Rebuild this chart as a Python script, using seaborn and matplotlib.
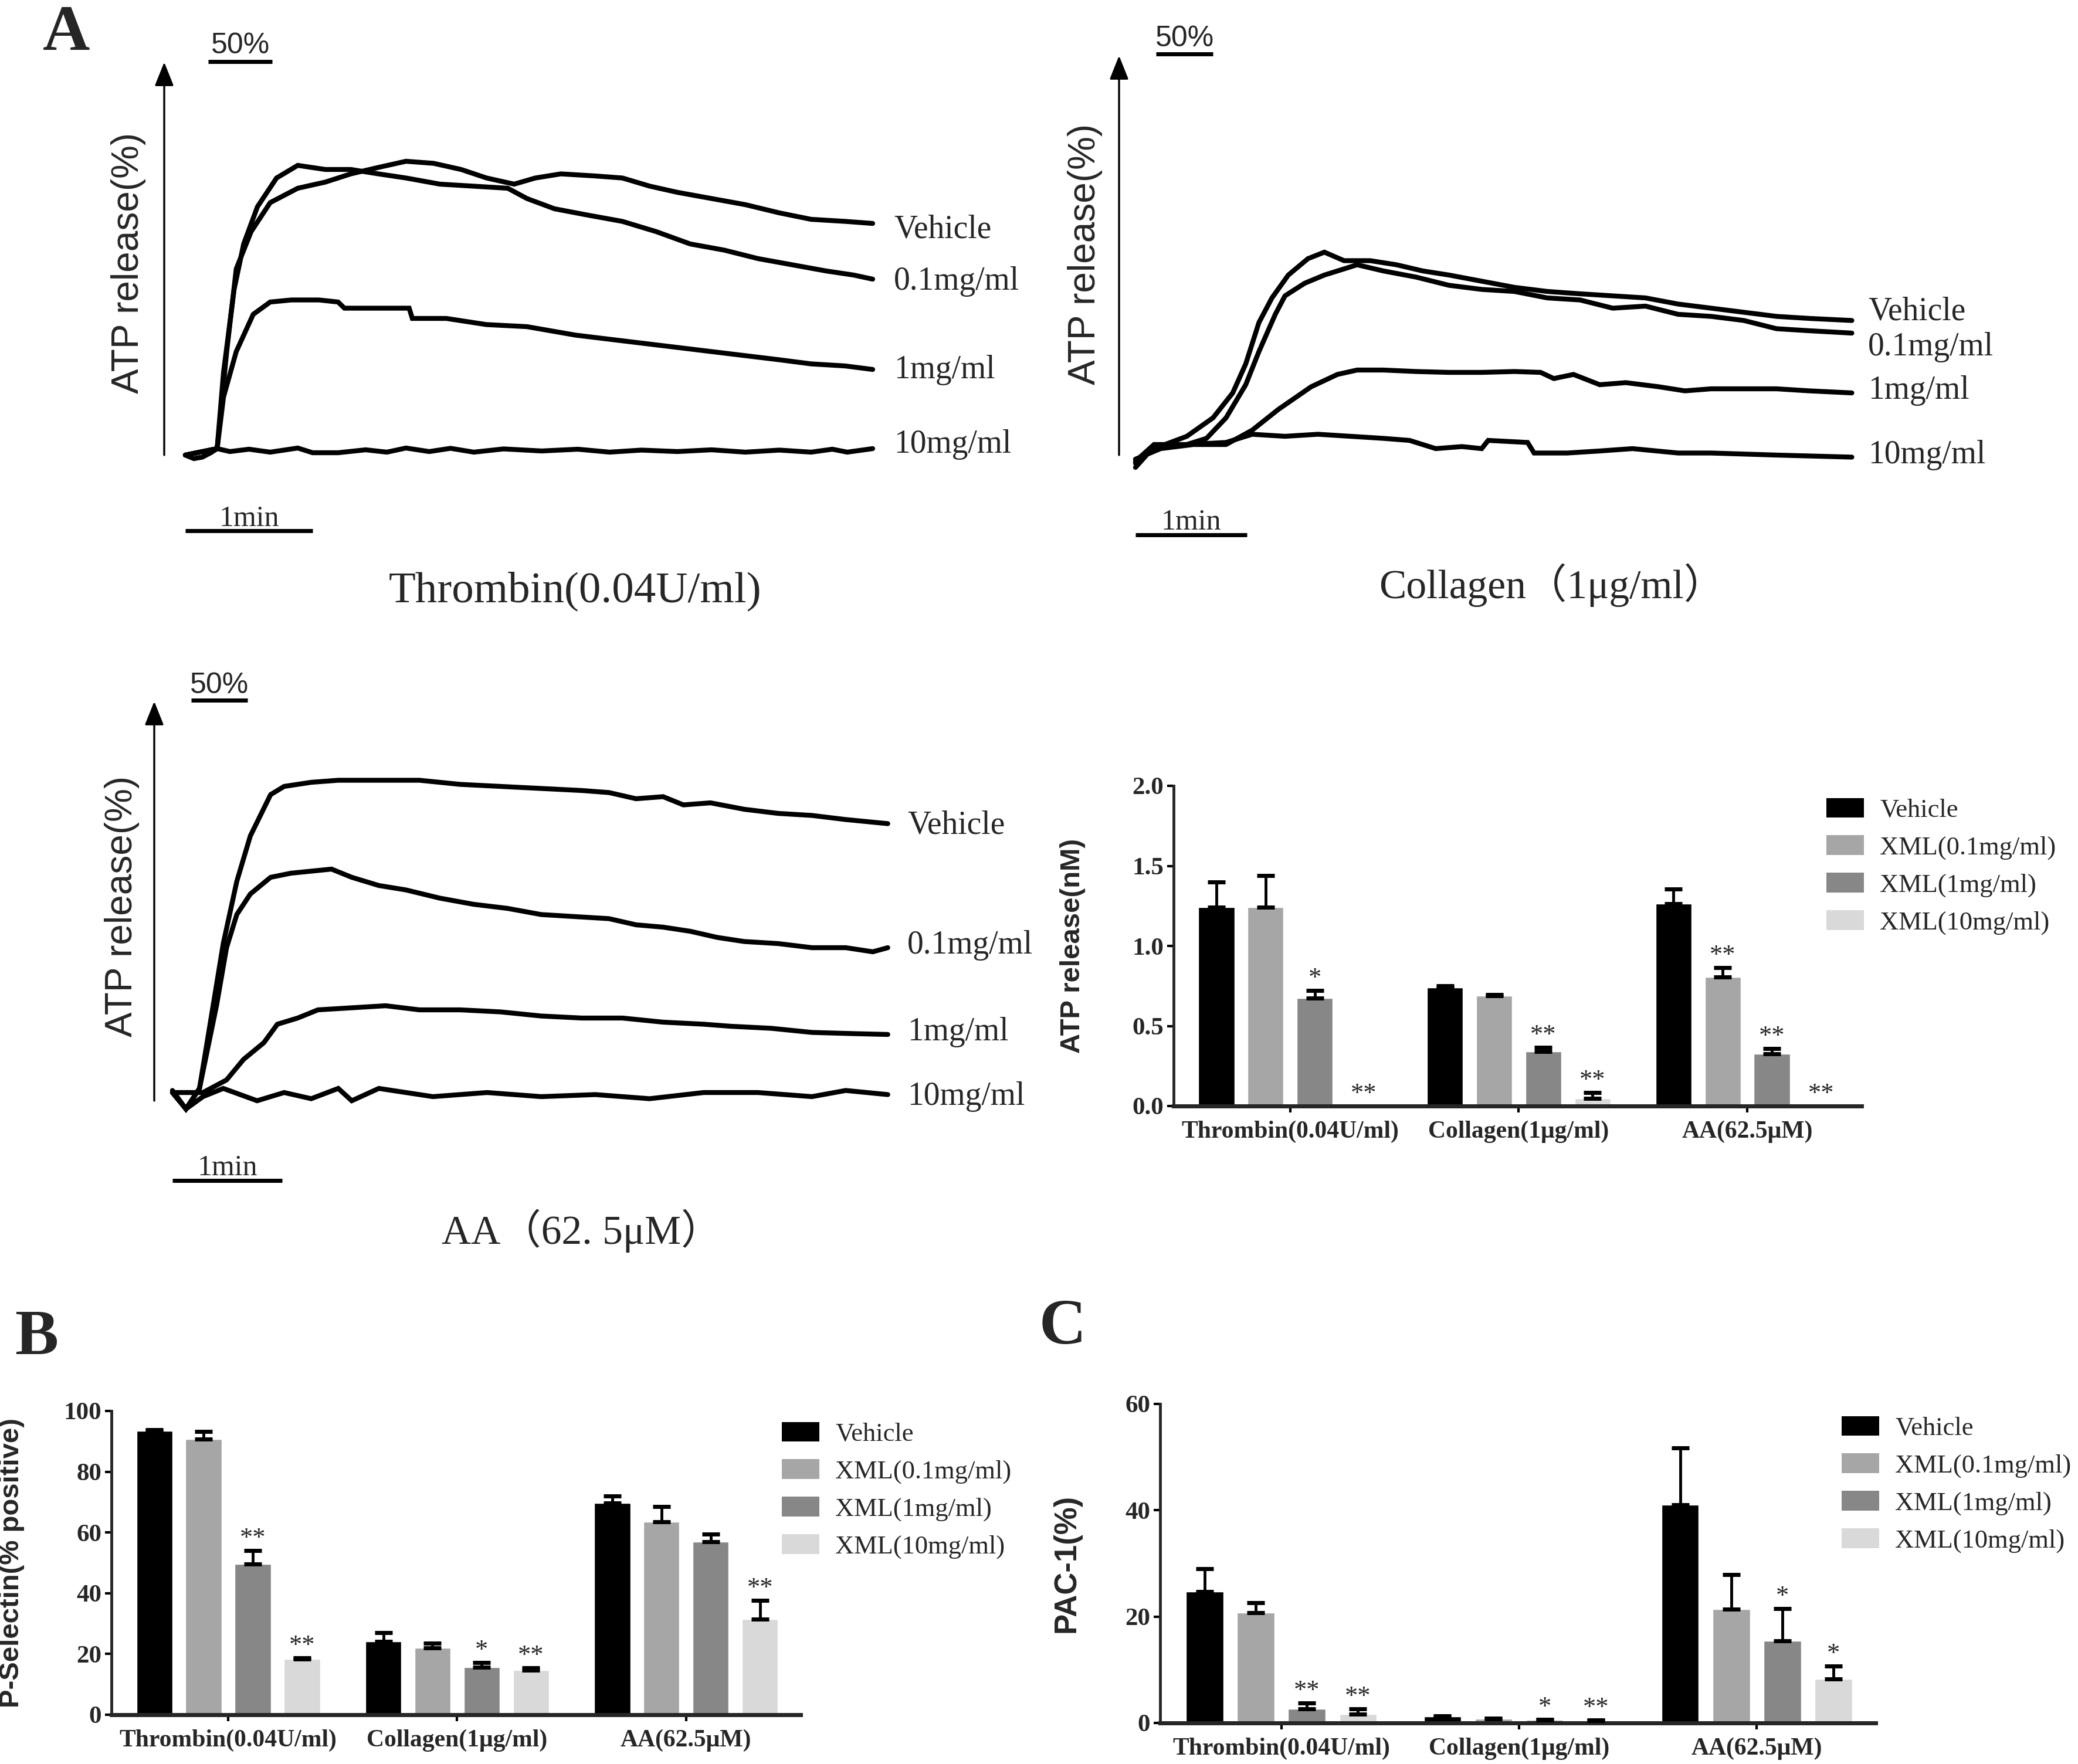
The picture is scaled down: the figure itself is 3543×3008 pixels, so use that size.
import numpy as np
import pandas as pd
import matplotlib
matplotlib.use('Agg')
import matplotlib.pyplot as plt
from matplotlib.patches import Patch
import seaborn as sns

W, H = 3543, 3008

# ---------------- ATP release traces: (time s, release %) ----------------
thr_vehicle = [(0, -0.8), (15, 1.4), (19.5, 34.5), (24, 62.7), (31, 75.4), (40, 85.3), (53, 90.2),
               (66, 92.3), (78, 95.1), (91, 97.3), (104, 99.4), (117, 98.7), (130, 96.6), (142, 93.7),
               (155, 91.6), (165, 93.7), (177, 95.1), (193, 94.4), (206, 93.7), (219, 90.9), (232, 88.8),
               (248, 86.7), (264, 84.6), (280, 81.8), (295, 79.6), (311, 78.9), (324, 78.2)]
thr_01 = [(0, -0.8), (15, 1.4), (18, 27.4), (23, 55.7), (27.5, 71.2), (34, 83.9), (43, 93.7), (53, 98),
          (66, 96.6), (78, 96.6), (91, 95.1), (104, 93.7), (120, 91.6), (136, 90.9), (152, 90.2),
          (161, 86.7), (174, 83.2), (190, 81), (206, 78.9), (222, 75.4), (238, 71.2), (254, 69.1),
          (270, 66.2), (286, 64.1), (302, 62), (315, 60.6), (324, 59.2)]
thr_1 = [(0, -0.8), (15, 1.4), (18, 19), (24, 34.5), (32, 47.2), (40, 51.4), (50, 52.1), (63, 52.1),
         (72, 51.4), (75, 49.3), (91, 49.3), (105.5, 49.3), (107, 45.8), (123, 45.8), (142, 43.7),
         (161, 43), (184, 40.1), (200, 38.7), (216, 37.3), (232, 35.9), (248, 34.5), (264, 33.1),
         (280, 31.7), (295, 30.3), (311, 29.6), (324, 28.4)]
thr_10 = [(0, -0.8), (4, -2), (8, -1.5), (12, 0), (15, 1.4), (21, 0.4), (30, 1.2), (40, 0.2), (53, 1.6),
          (60, 0), (72, 0), (85, 1), (95, 0.2), (104, 1.6), (115, 0.4), (125, 1.5), (136, 0.2),
          (150, 1.3), (168, 0.6), (185, 1.2), (200, 0.2), (215, 0.9), (232, 0.4), (248, 1), (264, 0.2),
          (280, 0.9), (295, 0.2), (305, 1.2), (312, 0.2), (324, 1.4)]

col_vehicle = [(0, -2.8), (10, 2.2), (27.6, 6.4), (41.7, 12.7), (52.3, 21.2), (59.3, 31.1), (66.4, 45.2),
               (73.4, 53.6), (82.2, 61.4), (92.8, 67), (101.6, 69.2), (112.2, 66.3), (126.3, 66.3),
               (140.4, 64.9), (154.5, 62.8), (168.6, 61.4), (186.2, 59.3), (203.8, 57.2), (221.5, 55.8),
               (239.1, 55), (256.7, 54.3), (274.3, 53.6), (291.9, 51.5), (309.6, 50.1), (327.2, 48.7),
               (344.8, 47.3), (362.5, 46.6), (385.3, 45.9)]
col_01 = [(0, -4.2), (10, 2.9), (27.6, 3.6), (38.2, 5.7), (48.7, 12.7), (59.3, 24), (66.4, 35.3),
          (75.2, 48), (80.4, 54.3), (91, 58.6), (101.6, 61.4), (112.2, 63.5), (119.2, 64.9), (133.3, 62.8),
          (150.9, 60.7), (168.6, 57.9), (186.2, 56.5), (203.8, 55.8), (221.5, 53.6), (239.1, 52.9),
          (256.7, 50.1), (274.3, 50.8), (291.9, 48), (309.6, 47.3), (327.2, 45.9), (344.8, 43.1),
          (362.5, 42.4), (385.3, 41.6)]
col_1 = [(0, -1.4), (13.5, 2.2), (31.1, 3.6), (48.7, 3.6), (62.8, 8.5), (76.9, 15.6), (94.5, 23.3),
         (108.6, 27.5), (119.2, 29), (133.3, 29), (150.9, 28.5), (168.6, 28.2), (186.2, 28.2),
         (203.8, 28.5), (217.9, 28.2), (225, 26.1), (235.6, 27.5), (249.7, 24), (263.7, 24.7),
         (281.4, 23.3), (295.5, 21.9), (309.6, 22.6), (327.2, 22.6), (344.8, 22.6), (362.5, 21.9),
         (385.3, 21.2)]
col_10 = [(0, -2.1), (10, 3.6), (27.6, 3.6), (48.7, 4.3), (62.8, 7.1), (80.4, 6.4), (98.1, 7.1),
          (115.7, 6.4), (133.3, 5.7), (147.4, 5), (161.5, 2.2), (175.6, 2.9), (186.2, 2.2), (189.7, 5),
          (210.9, 4.3), (214.4, 0.7), (232.1, 0.7), (249.7, 1.4), (267.3, 2.2), (291.9, 0.7),
          (309.6, 0.7), (344.8, 0), (385.3, -0.7)]

aa_vehicle = [(0, 0.6), (7.4, -5), (14.8, 2), (20.4, 23.2), (27.8, 51.4), (35.2, 72.6), (42.6, 88.1),
              (53.7, 102.2), (61.1, 105), (75.9, 106.4), (90.7, 107.1), (112.9, 107.1), (135.1, 107.1),
              (157.3, 105.7), (179.5, 105), (201.7, 104.3), (224, 103.6), (238.8, 102.9), (253.6, 100.8),
              (268.4, 101.5), (279.5, 98.7), (294.3, 99.4), (312.8, 97.2), (331.3, 95.8), (349.8, 95.1),
              (368.3, 93.7), (391.3, 92.3)]
aa_01 = [(0, 0.6), (7.4, -5), (14.8, 2), (24.1, 30.2), (29.6, 50), (35.2, 61.3), (42.6, 68.3), (53.7, 74),
         (64.8, 75.4), (75.9, 76.1), (87, 76.8), (98.1, 74), (112.9, 71.2), (127.7, 69.7), (146.2, 66.9),
         (164.7, 64.8), (183.3, 63.4), (201.7, 61.3), (220.2, 60.6), (238.8, 59.9), (253.6, 57.8),
         (268.4, 57), (283.2, 55.6), (298, 53.5), (312.8, 52.1), (331.3, 51.4), (349.8, 50), (368.3, 50),
         (383.1, 48.6), (391.3, 50)]
aa_1 = [(0, 0.6), (16.7, 0.6), (29.6, 4.9), (38.9, 11.9), (50, 17.6), (57.4, 23.9), (68.5, 26),
        (79.6, 28.8), (98.1, 29.5), (116.6, 30.2), (135.1, 28.8), (157.3, 28.8), (179.5, 28.1),
        (201.7, 26.7), (224, 26), (246.2, 26), (268.4, 24.6), (290.6, 23.9), (305.4, 23.2), (327.6, 22.5),
        (349.8, 21.1), (372, 20.7), (391.3, 20.4)]
aa_10 = [(0, 1.3), (7.4, -5), (16.7, -0.8), (27.8, 2), (46.3, -2.2), (61.1, 0.6), (75.9, -1.5), (90.7, 2),
         (98.1, -2.2), (112.9, 2), (142.5, -0.8), (172.1, 0.6), (201.7, -0.8), (231.3, -0.1), (261, -1.5),
         (290.6, 0.6), (320.2, 0.6), (349.8, -0.8), (368.3, 1.3), (391.3, -0.1)]

trace_names = ['Vehicle', '0.1mg/ml', '1mg/ml', '10mg/ml']

# ---------------- bar chart data ----------------
agonists = ['Thrombin(0.04U/ml)', 'Collagen(1μg/ml)', 'AA(62.5μM)']
groups = ['Vehicle', 'XML(0.1mg/ml)', 'XML(1mg/ml)', 'XML(10mg/ml)']
bar_colors = ['#000000', '#a6a6a6', '#878787', '#d9d9d9']

atp_vehicle = [1.24, 0.74, 1.265]
atp_xml01 = [1.24, 0.69, 0.805]
atp_xml1 = [0.675, 0.34, 0.325]
atp_xml10 = [0.0, 0.046, 0.0]
atp_err = [[0.16, 0.012, 0.09], [0.20, 0.005, 0.058], [0.046, 0.026, 0.035], [0.0, 0.037, 0.0]]
atp_sig = [['', '', ''], ['', '', '**'], ['*', '**', '**'], ['**', '**', '**']]

psel_vehicle = [93.5, 24.2, 69.7]
psel_xml01 = [90.7, 22.1, 63.5]
psel_xml1 = [49.7, 15.7, 56.9]
psel_xml10 = [18.3, 14.6, 31.5]
psel_err = [[0.3, 2.8, 2.4], [2.5, 1.4, 5.0], [4.4, 1.4, 2.6], [0.4, 0.9, 6.2]]
psel_sig = [['', '', ''], ['', '', ''], ['**', '*', ''], ['**', '**', '**']]

pac_vehicle = [24.7, 1.2, 41.0]
pac_xml01 = [20.7, 0.8, 21.4]
pac_xml1 = [2.7, 0.6, 15.4]
pac_xml10 = [1.7, 0.45, 8.3]
pac_err = [[4.3, 0.1, 10.7], [1.9, 0.1, 6.5], [1.1, 0.05, 6.1], [1.0, 0.05, 2.4]]
pac_sig = [['', '', ''], ['', '', ''], ['**', '*', '*'], ['**', '**', '*']]

sns.set_style('white')
plt.rcParams['font.family'] = ['Liberation Serif', 'Noto Sans CJK SC']
SANS = ['Liberation Sans', 'DejaVu Sans']

fig = plt.figure(figsize=(W / 100, H / 100), dpi=100)


def px_axes(left, top, right, bottom):
    return fig.add_axes([left / W, 1 - bottom / H, (right - left) / W, (bottom - top) / H])


canvas = px_axes(0, 0, W, H)
canvas.set_xlim(0, W)
canvas.set_ylim(H, 0)
canvas.axis('off')

SY = 5.0  # px per percent


def trace_panel(x0, y0, sx, t_end, traces, label_t, label_y, bar_y, text_y):
    ax = px_axes(x0, y0 - 110 * SY, x0 + t_end * sx, y0 + 10 * SY)
    for tr in traces:
        t, v = zip(*tr)
        sns.lineplot(x=list(t), y=list(v), ax=ax, color='black', lw=6, sort=False, estimator=None)
    for ln in ax.lines:
        ln.set_clip_on(False)
        ln.set_solid_joinstyle('miter')
    for name, ly in zip(trace_names, label_y):
        ax.text(label_t, ly, name, fontsize=40, ha='left', va='center')
    ax.plot([0, 60], [bar_y, bar_y], color='black', lw=5, solid_capstyle='butt', clip_on=False)
    ax.text(30, text_y, '1min', fontsize=36, ha='center', va='baseline')
    ax.set_xlim(0, t_end)
    ax.set_ylim(-10, 110)
    ax.axis('off')
    return ax


trace_panel(316, 772, 3.617, 324, [thr_vehicle, thr_01, thr_1, thr_10], 334,
            [76.2, 58.4, 28.2, 2.8], -26.6, -25.0)
trace_panel(1936, 776, 3.17, 385.5, [col_vehicle, col_01, col_1, col_10], 394,
            [48.8, 36.8, 22.0, 0.0], -27.2, -25.4)
trace_panel(294, 1866, 3.117, 391.4, [aa_vehicle, aa_01, aa_1, aa_10], 402,
            [91.6, 50.8, 21.2, -0.8], -29.4, -27.6)

# arrows, 50% scale bars, axis titles of the traces
for x, ytip, ybot in [(280, 106, 776), (1908, 95, 776), (263, 1196, 1877)]:
    canvas.annotate('', xy=(x, ytip), xytext=(x, ybot),
                    arrowprops=dict(arrowstyle='-|>,head_length=1.0,head_width=0.4', lw=2.4,
                                    color='black', mutation_scale=25, shrinkA=0, shrinkB=0))
for x1, x2, yb, ytx in [(355, 464, 105, 91), (1971, 2068, 92, 79), (326, 422, 1194, 1182)]:
    canvas.plot([x1, x2], [yb, yb], color='black', lw=5, solid_capstyle='butt')
    canvas.text((x1 + x2) / 2, ytx, '50%', family=SANS, fontsize=36, ha='center', va='baseline')
for x, y in [(219, 448), (1850, 433), (208, 1545)]:
    canvas.text(x, y, 'ATP release(%)', family=SANS, fontsize=46, rotation=90, ha='center', va='center')
canvas.text(981, 1008, 'Thrombin(0.04U/ml)', fontsize=54, ha='center', va='center')
canvas.text(2646, 998, 'Collagen（1μg/ml）', fontsize=50, ha='center', va='center')
canvas.text(992, 2099, 'AA（62. 5μM）', fontsize=50, ha='center', va='center')

for letter, x, y in [('A', 113, 85), ('B', 62, 2309), ('C', 1812, 2291)]:
    canvas.text(x, y, letter, fontsize=80, fontweight='bold', ha='center', va='baseline')

SLOT = 0.86 / 4


def bar_panel(box, series, errs, sigs, ymax, yticks, ytlabels, ylabel, ylabel_size, ylabel_x, leg_xy):
    ax = px_axes(*box)
    rows = []
    for g, vals in zip(groups, series):
        for a, v in zip(agonists, vals):
            rows.append((a, g, v))
    df = pd.DataFrame(rows, columns=['agonist', 'group', 'value'])
    sns.barplot(data=df, x='agonist', y='value', hue='group', order=agonists, hue_order=groups,
                palette=bar_colors, saturation=1, width=0.86, gap=0.27, errorbar=None,
                legend=False, ax=ax)
    for bar in ax.patches:
        xc = bar.get_x() + bar.get_width() / 2
        ai = int(round(xc))
        gi = int(round((xc - ai) / SLOT + 1.5))
        if not (0 <= ai < 3 and 0 <= gi < 4):
            continue
        v = series[gi][ai]
        e = errs[gi][ai]
        if e > 0:
            ax.errorbar(xc, v, yerr=[[0], [e]], fmt='none', ecolor='black', elinewidth=3.5,
                        capsize=11, capthick=5, zorder=3, clip_on=False)
        if sigs[gi][ai]:
            ax.text(xc, v + e, sigs[gi][ai], fontsize=32, ha='center', va='bottom')
    ax.set_xlim(-0.51, 2.5)
    ax.set_ylim(0, ymax)
    ax.set_yticks(yticks, ytlabels, fontsize=31, fontweight='bold')
    ax.set_xticks([0, 1, 2], agonists, fontsize=30, fontweight='bold')
    ax.set_xlabel('')
    ax.set_ylabel(ylabel, family=SANS, fontsize=ylabel_size, fontweight='bold')
    ax.yaxis.set_label_coords(ylabel_x, 0.5)
    sns.despine(ax=ax)
    ax.spines['left'].set_linewidth(3.5)
    ax.spines['bottom'].set_linewidth(5)
    ax.tick_params(axis='both', direction='out', length=8, width=3, color='black',
                   left=True, bottom=True, pad=4)
    ax.tick_params(axis='x', pad=10)
    handles = [Patch(facecolor=c, edgecolor='none', label=g) for c, g in zip(bar_colors, groups)]
    ax.legend(handles=handles, loc='upper left', bbox_to_anchor=(leg_xy[0] / W, 1 - leg_xy[1] / H),
              bbox_transform=fig.transFigure, frameon=False, fontsize=32, handlelength=1.45,
              handleheight=0.78, handletextpad=0.6, labelspacing=0.5, borderpad=0, borderaxespad=0)
    return ax


bar_panel((2001, 1340, 3174, 1886), [atp_vehicle, atp_xml01, atp_xml1, atp_xml10], atp_err, atp_sig,
          2.0, [0, 0.5, 1.0, 1.5, 2.0], ['0.0', '0.5', '1.0', '1.5', '2.0'], 'ATP release(nM)', 34,
          -0.128, (3114, 1361))
bar_panel((190, 2406, 1365, 2924), [psel_vehicle, psel_xml01, psel_xml1, psel_xml10], psel_err, psel_sig,
          100, [0, 20, 40, 60, 80, 100], ['0', '20', '40', '60', '80', '100'], 'P-Selectin(% positive)', 34,
          -0.126, (1333, 2425))
bar_panel((1978, 2394, 3198, 2938), [pac_vehicle, pac_xml01, pac_xml1, pac_xml10], pac_err, pac_sig,
          60, [0, 20, 40, 60], ['0', '20', '40', '60'], 'PAC-1(%)', 38,
          -0.11, (3140, 2415))

fig.savefig('out.png', dpi=100)
